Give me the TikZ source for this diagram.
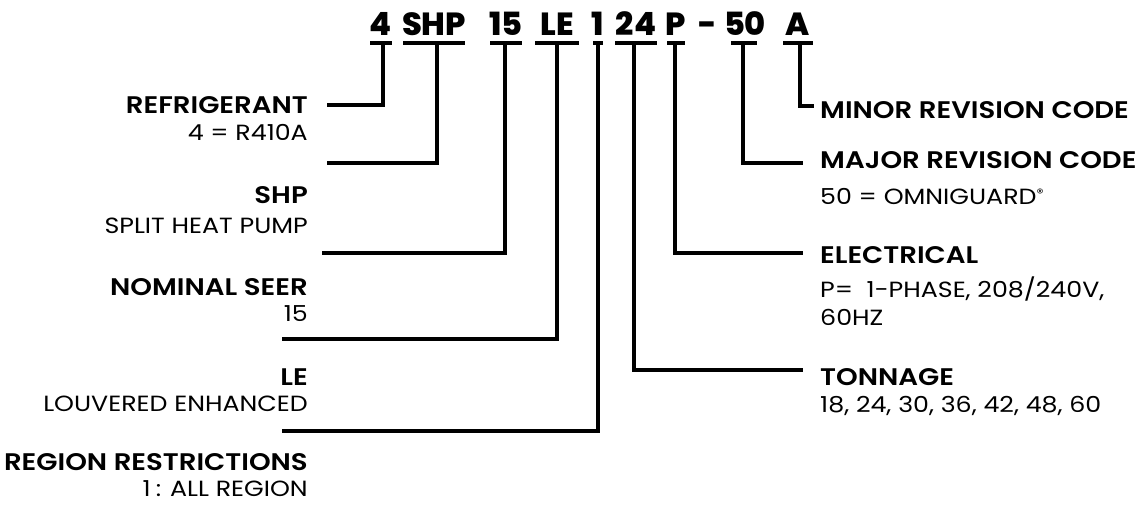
\documentclass[tikz,border=0pt]{standalone}
\usepackage{fontspec}
\setmainfont{Poppins}
\newfontfamily\titlefont{Poppins}[UprightFont=* SemiBold, FakeStretch=1.15]
\newfontfamily\descfont{Poppins}[FakeStretch=1.15]
\newfontfamily\codefont{Poppins}[UprightFont=* ExtraBold]
\begin{document}
\begin{tikzpicture}[x=1pt,y=-1pt,
  code/.style={font=\codefont\fontsize{32}{32}\selectfont, inner sep=0pt, anchor=base},
  ttl/.style={font=\titlefont\fontsize{24}{26}\selectfont, inner sep=0pt},
  dsc/.style={font=\descfont\fontsize{22}{24}\selectfont, inner sep=0pt},
  conn/.style={line width=3.5pt},
  uline/.style={line width=3.2pt}]
\useasboundingbox (0,0) rectangle (1140,504);
% code letters
\node[code] (c4)  at (381,35) {4};
\node[code] (cshp) at (434,35) {SHP};
\node[code] (c15) at (506,35) {15};
\node[code] (cle) at (557,35) {LE};
\node[code] (c1)  at (598,35) {1};
\node[code] (c24) at (636,35) {24};
\node[code] (cp)  at (676,35) {P};
\node[code] (cd)  at (708,35) {-};
\node[code] (c50) at (745,35) {50};
\node[code] (ca)  at (798,35) {A};
% underlines (extents of each group)
\draw[uline] (370,43) -- (392,43);
\draw[uline] (403,43) -- (465,43);
\draw[uline] (490,43) -- (522,43);
\draw[uline] (535,43) -- (579,43);
\draw[uline] (593,43) -- (603,43);
\draw[uline] (615,43) -- (657,43);
\draw[uline] (667,43) -- (685,43);
\draw[uline] (731,43) -- (757,43);
\draw[uline] (783,43) -- (813,43);
% left labels
\node[ttl, anchor=base east] (refr) at (308,113) {REFRIGERANT};
\node[dsc, anchor=base east] (refrd) at (308,140) {4 = R410A};
\node[ttl, anchor=base east] (shp) at (308,203) {SHP};
\node[dsc, anchor=base east] (shpd) at (308,233) {SPLIT HEAT PUMP};
\node[ttl, anchor=base east] (seer) at (308,295) {NOMINAL SEER};
\node[dsc, anchor=base east] (seerd) at (308,321) {15};
\node[ttl, anchor=base east] (le) at (308,385) {LE};
\node[dsc, anchor=base east] (led) at (308,411) {LOUVERED ENHANCED};
\node[ttl, anchor=base east] (reg) at (308,470) {REGION RESTRICTIONS};
\node[dsc, anchor=base east] (regd) at (308,496) {1\hspace{5pt}: ALL REGION};
% right labels
\node[ttl, anchor=base west] (minor) at (820,118) {MINOR REVISION CODE};
\node[ttl, anchor=base west] (major) at (820,168) {MAJOR REVISION CODE};
\node[dsc, anchor=base west] (majord) at (820,204) {50 = OMNIGUARD\raisebox{7pt}{\fontsize{12}{12}\selectfont ®}};
\node[ttl, anchor=base west] (elec) at (820,263) {ELECTRICAL};
\node[dsc, anchor=base west] (elecd) at (820,297) {P=\ \ 1-PHASE, 208/240V,};
\node[dsc, anchor=base west] (elecd2) at (820,325) {60HZ};
\node[ttl, anchor=base west] (ton) at (820,385) {TONNAGE};
\node[dsc, anchor=base west] (tond) at (820,412) {18, 24, 30, 36, 42, 48, 60};
% free ends
\coordinate (e4) at (327,105);
\coordinate (eshp) at (327,163);
\coordinate (e15) at (322,253);
\coordinate (ele) at (282,339);
\coordinate (e1) at (282,431);
\coordinate (ea) at (814,106);
\coordinate (e50) at (803,163);
\coordinate (ep) at (803,253);
\coordinate (e24) at (803,370);
% connectors
\draw[conn] (383,43) |- (e4);
\draw[conn] (437,43) |- (eshp);
\draw[conn] (505,43) |- (e15);
\draw[conn] (557,43) |- (ele);
\draw[conn] (598,43) |- (e1);
\draw[conn] (634,43) |- (e24);
\draw[conn] (675,43) |- (ep);
\draw[conn] (743,43) |- (e50);
\draw[conn] (800,43) |- (ea);
\end{tikzpicture}
\end{document}
